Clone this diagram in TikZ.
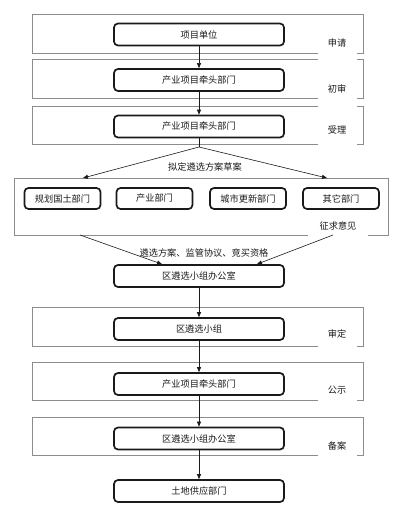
\documentclass[tikz,border=0pt]{standalone}
\usepackage{fontspec}
\setmainfont{Noto Sans CJK SC}
\usetikzlibrary{arrows.meta}
\definecolor{ink}{HTML}{1A1A1A}
\definecolor{frame}{HTML}{8C8C8C}
\tikzset{
  every node/.style={font=\fontsize{9.2}{11}\selectfont,text=ink},
  band/.style={draw=frame,line width=.7pt},
  stage/.style={draw=ink,line width=1.7pt,rounded corners=4pt,minimum width=170pt,minimum height=22pt,inner sep=0pt},
  dept/.style={draw=ink,line width=1.7pt,rounded corners=4pt,minimum width=76pt,minimum height=21pt,inner sep=0pt},
  phase/.style={fill=white,inner sep=0pt,minimum width=39pt,minimum height=36pt},
  flow/.style={draw=ink,line width=.6pt,-{Triangle[length=5pt,width=4pt]}}
}
\begin{document}
\begin{tikzpicture}[x=1pt,y=-1pt]
  \useasboundingbox (0,0) rectangle (405,511);
  % Frames of the review phases.
  \draw[band] (32,14) rectangle (363,53);
  \draw[band] (32,59) rectangle (363,98);
  \draw[band] (32,106) rectangle (363,144);
  \draw[band] (14,178) rectangle (388,235);
  \draw[band] (32,307) rectangle (363,346);
  \draw[band] (32,362) rectangle (363,400);
  \draw[band] (32,417) rectangle (363,455);

  % Phase labels, white boxes over the frame edges.
  \node[phase] (apply) at (337,43) {申请};
  \node[phase] (check) at (337,89) {初审};
  \node[phase] (accept) at (337,130) {受理};
  \node[phase] (decide) at (337,334) {审定};
  \node[phase] (notice) at (337,390) {公示};
  \node[phase] (record) at (337,446) {备案};
  \node[phase,minimum width=60pt,minimum height=22pt] (consult) at (338,226) {征求意见};
  \node[fill=white,inner sep=0pt,minimum width=104pt,minimum height=22pt] (draft) at (205,167) {拟定遴选方案草案};

  % Main flow boxes.
  \node[stage] (unit) at (199,34.5) {项目单位};
  \node[stage] (lead1) at (199,80) {产业项目牵头部门};
  \node[stage] (lead2) at (199,126.5) {产业项目牵头部门};
  \node[dept] (plan) at (62.5,198.5) {规划国土部门};
  \node[dept] (ind) at (154.5,198.5) {产业部门};
  \node[dept] (urban) at (248,198.5) {城市更新部门};
  \node[dept] (other) at (341,198.5) {其它部门};
  \node[stage] (office1) at (199,276) {区遴选小组办公室};
  \node[stage] (group) at (199,329) {区遴选小组};
  \node[stage] (lead3) at (199,384) {产业项目牵头部门};
  \node[stage] (office2) at (199,438.5) {区遴选小组办公室};
  \node[stage] (supply) at (199,491) {土地供应部门};

  % Connectors.
  \coordinate (fork) at (199,147);
  \coordinate (toleft) at (83,178);
  \coordinate (toright) at (327,178);
  \coordinate (fromleft) at (80,235);
  \coordinate (fromright) at (333,235);
  \draw[flow] (unit) -- (lead1);
  \draw[flow] (lead1) -- (lead2);
  \draw[draw=ink,line width=.6pt] (lead2) -- (fork);
  \draw[flow] (fork) -- (toleft);
  \draw[flow] (fork) -- (toright);
  \draw[flow] (fromleft) -- ([xshift=-37pt]office1.north);
  \draw[flow] (fromright) -- ([xshift=58pt]office1.north);
  \node (terms) at (204,253) {遴选方案、监管协议、竞买资格};
  \draw[flow] (office1) -- (group);
  \draw[flow] (group) -- (lead3);
  \draw[flow] (lead3) -- (office2);
  \draw[flow] (office2) -- (supply);
\end{tikzpicture}
\end{document}
